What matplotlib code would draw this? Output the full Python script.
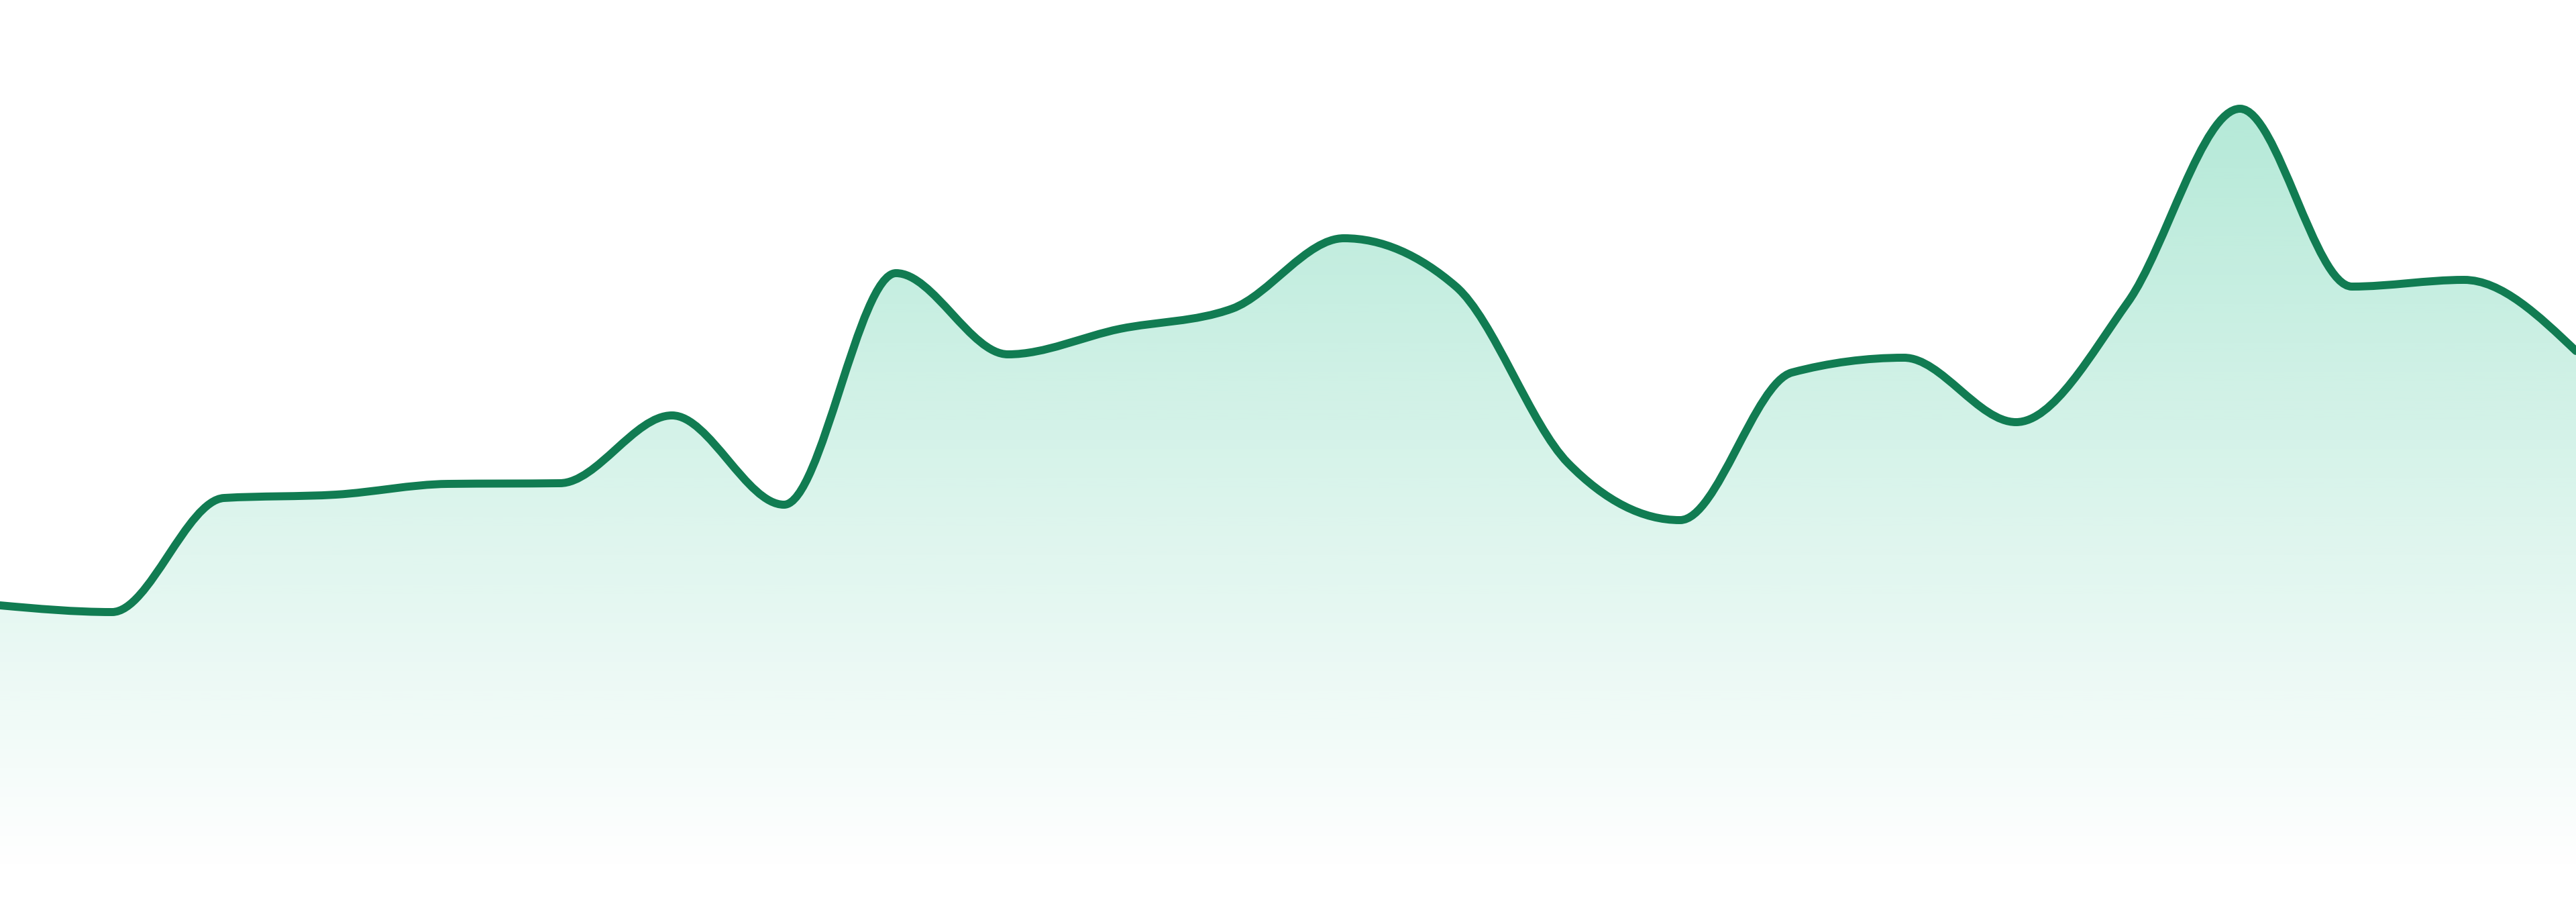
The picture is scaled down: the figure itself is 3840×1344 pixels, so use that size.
import numpy as np
import matplotlib
matplotlib.use('Agg')
import matplotlib.pyplot as plt
from matplotlib.path import Path
from matplotlib.patches import PathPatch

# values (one point per step, 24 steps)
steps = np.arange(24)
values = [442, 432, 602, 607, 623, 624, 725, 592, 937, 816, 854, 884,
          989, 917, 654, 569, 789, 811, 715, 894, 1182, 917, 927, 821]
baseline = 39

line_color = '#117c52'
fill_rgb = (16/255, 185/255, 129/255)


def monotone_tangents(x, y):
    # same as d3 curveMonotoneX
    x = np.asarray(x, float)
    y = np.asarray(y, float)
    n = len(x)
    h = np.diff(x)
    s = np.diff(y) / h
    t = np.zeros(n)
    for i in range(1, n - 1):
        h0, h1 = h[i-1], h[i]
        s0, s1 = s[i-1], s[i]
        p = (s0 * h1 + s1 * h0) / (h0 + h1)
        t[i] = (np.sign(s0) + np.sign(s1)) * min(abs(s0), abs(s1), 0.5 * abs(p))
    t[0] = (3 * s[0] - t[1]) / 2
    t[-1] = (3 * s[-1] - t[-2]) / 2
    return t


def curve_verts(x, y):
    t = monotone_tangents(x, y)
    verts = [(x[0], y[0])]
    codes = [Path.MOVETO]
    for i in range(len(x) - 1):
        dx = (x[i+1] - x[i]) / 3
        verts += [(x[i] + dx, y[i] + dx * t[i]),
                  (x[i+1] - dx, y[i+1] - dx * t[i+1]),
                  (x[i+1], y[i+1])]
        codes += [Path.CURVE4] * 3
    return verts, codes


fig = plt.figure(figsize=(38.4, 13.44), dpi=100)
ax = fig.add_axes([0, 0, 1, 1])
ax.set_xlim(steps[0], steps[-1])
ax.set_ylim(0, 1344)
ax.axis('off')

verts, codes = curve_verts(steps, values)

# area under curve with vertical gradient
area_verts = verts + [(steps[-1], baseline), (steps[0], baseline), (steps[0], values[0])]
area_codes = codes + [Path.LINETO, Path.LINETO, Path.CLOSEPOLY]
area = PathPatch(Path(area_verts, area_codes), facecolor='none', edgecolor='none')
ax.add_patch(area)

top = max(values)
grad = np.zeros((256, 1, 4))
grad[:, 0, :3] = fill_rgb
grad[:, 0, 3] = np.linspace(0.31, 0.0, 256)
img = ax.imshow(grad, extent=[steps[0], steps[-1], baseline, top],
                aspect='auto', origin='upper', interpolation='bicubic', zorder=1)
img.set_clip_path(area)

line = PathPatch(Path(verts, codes), facecolor='none', edgecolor=line_color,
                 linewidth=8.6, capstyle='round', joinstyle='round', zorder=2)
ax.add_patch(line)

fig.savefig('out.png', dpi=100, facecolor='white')
